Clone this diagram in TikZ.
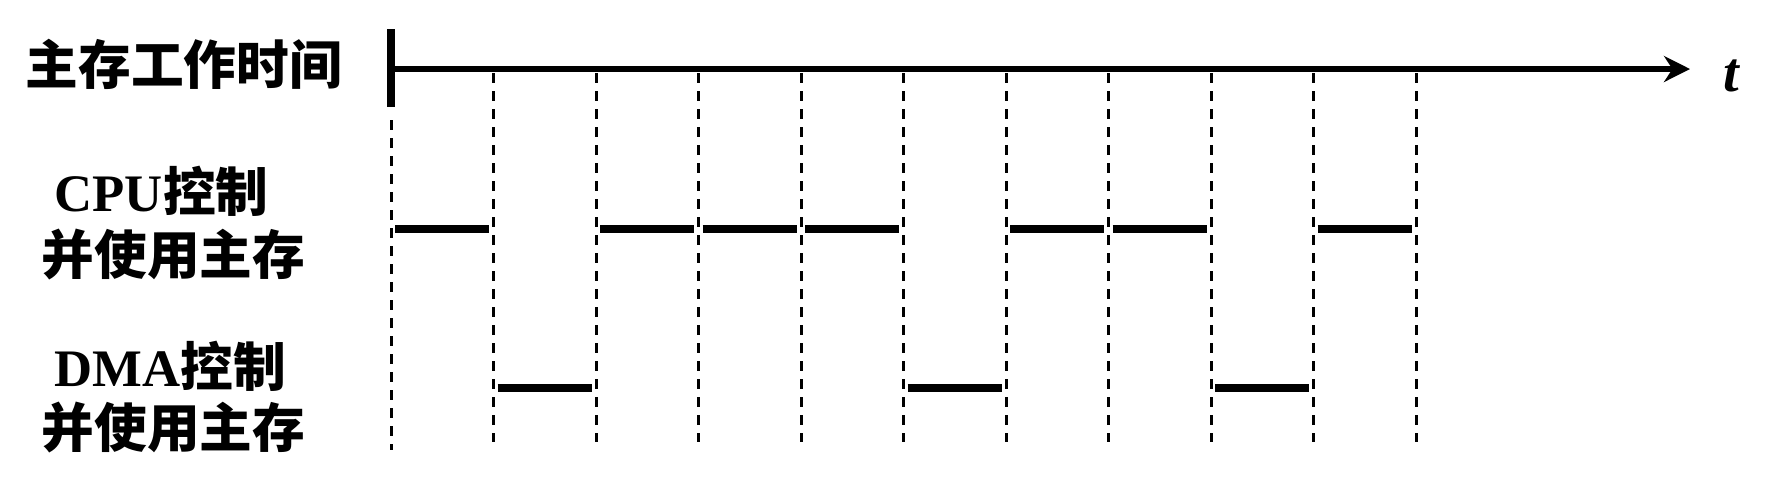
\documentclass[tikz,border=0pt]{standalone}
\usepackage{fontspec}
\setmainfont{Liberation Serif}
\newfontfamily\cjk{Noto Sans CJK SC}
\usetikzlibrary{arrows.meta}
\tikzset{
  lbl/.style={font=\fontsize{15pt}{18pt}\selectfont\bfseries, anchor=west, inner sep=0pt},
  slot/.style={line width=0.75mm},
  tick/.style={line width=0.3mm, dash pattern=on 1mm off 0.8mm},
}
\begin{document}
\begin{tikzpicture}[x=0.1mm,y=-0.1mm]
        \useasboundingbox (0,0) rectangle (1768,501);
        % labels
        \node[lbl] (mem) at (25,64) {\cjk 主存工作时间};
        \node[lbl] (cpua) at (54,191) {CPU\cjk 控制};
        \node[lbl] (cpub) at (41,255) {\cjk 并使用主存};
        \node[lbl] (dmaa) at (54,366) {DMA\cjk 控制};
        \node[lbl] (dmab) at (41,428) {\cjk 并使用主存};
        % time axis
        \draw[line width=0.8mm] (391,29) -- (391,107);
        \draw[line width=0.65mm,-{Stealth[length=2.6mm,width=2.6mm]}] (391,69) -- (1690,69);
        \node[font=\fontsize{16pt}{20pt}\selectfont\bfseries\itshape] (t) at (1731,76) {t};
        % cycle borders
        \draw[tick] (391,120) -- (391,450);
        \foreach \i in {1,...,10} {
            \draw[tick] ({391+102.5*\i},73) -- ({391+102.5*\i},442);}
        % CPU and DMA cycles
        \foreach \i in {0,2,3,4,6,7,9} {
            \draw[slot] ({395+102.5*\i},229) -- ({489+102.5*\i},229);}
        \foreach \i in {1,5,8} {
            \draw[slot] ({395+102.5*\i},388) -- ({489+102.5*\i},388);}
\end{tikzpicture}
\end{document}
